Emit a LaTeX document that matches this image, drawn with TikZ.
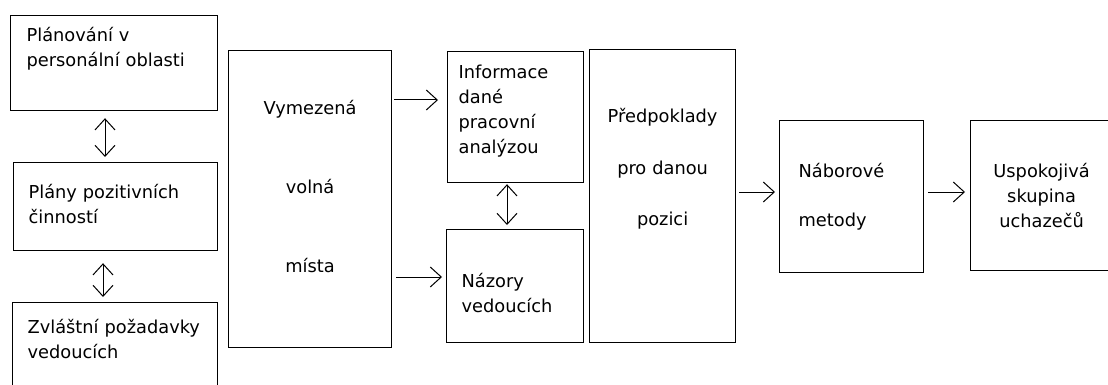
\documentclass[tikz,border=0pt]{standalone}
\usepackage{fontspec}
\setmainfont{DejaVu Sans}
\usetikzlibrary{arrows.meta,positioning}

\begin{document}
\begin{tikzpicture}[x=1pt,y=-1pt,>={Straight Barb[length=11pt,width=20pt]},font=\fontsize{17.8}{25}\selectfont]
\tikzstyle{b}=[draw,line width=1.2pt,anchor=north west,inner ysep=0pt]
\tikzstyle{lb}=[b,align=left]
\tikzstyle{cb}=[b,align=center,inner xsep=0pt]
\tikzstyle{a}=[line width=1pt]
\useasboundingbox (0,0) rectangle (1108,385);
\clip (0,0) rectangle (1108,385);
% left column
\node[lb,inner xsep=16pt,text width=175pt,text height=26pt,text depth=69pt] (plan) at (10,15) {Plánování v\\personální oblasti};
\node[lb,inner xsep=15pt,text width=174pt,text height=36pt,text depth=52pt] (plany) at (13,162) {Plány pozitivních\\činností};
\node[lb,inner xsep=15pt,text width=175pt,text height=31pt,text depth=69pt] (zvlast) at (12,302) {Zvláštní požadavky\\vedoucích};
% middle
\node[cb,text width=163pt,text height=64pt,text depth=233pt] (vym) at (228,50) {Vymezená\\[54pt]volná\\[54pt]místa};
\node[lb,inner xsep=11pt,text width=114pt,text height=27pt,text depth=104pt] (info) at (447,51) {Informace\\dané\\pracovní\\analýzou};
\node[lb,inner xsep=15pt,text width=107pt,text height=58pt,text depth=55pt] (nazory) at (446,229) {Názory\\vedoucích};
\node[cb,text width=146pt,text height=73pt,text depth=220pt] (pred) at (589,49) {Předpoklady\\[26.5pt]pro danou\\[26.5pt]pozici};
% right
\node[lb,inner xsep=19pt,text width=106pt,text height=57pt,text depth=95pt] (nabor) at (779,120) {Náborové\\[24pt]metody};
\node[cb,text width=142pt,text height=57pt,text depth=93pt] (usp) at (970,120) {Uspokojivá\\skupina\\uchazečů};
% connectors
\coordinate (r1) at (0,100);
\coordinate (r2) at (0,277);
\coordinate (r3) at (0,192);
\coordinate (c1) at (105,0);
\coordinate (c2) at (103,0);
\coordinate (c3) at (507,0);
\draw[a,<->,shorten <=7pt,shorten >=5pt] (plan.south -| c1) -- (plany.north -| c1);
\draw[a,<->,shorten <=12pt,shorten >=5pt] (plany.south -| c2) -- (zvlast.north -| c2);
\draw[a,<->,shorten <=1pt,shorten >=4pt] (info.south -| c3) -- (nazory.north -| c3);
\draw[a,->,shorten <=2pt,shorten >=9pt] (vym.east |- r1) -- (info.west |- r1);
\draw[a,->,shorten <=4pt,shorten >=4pt] (vym.east |- r2) -- (nazory.west |- r2);
\draw[a,->,shorten <=3pt,shorten >=4pt] (pred.east |- r3) -- (nabor.west |- r3);
\draw[a,->,shorten <=4pt,shorten >=5pt] (nabor.east |- r3) -- (usp.west |- r3);
\end{tikzpicture}
\end{document}
